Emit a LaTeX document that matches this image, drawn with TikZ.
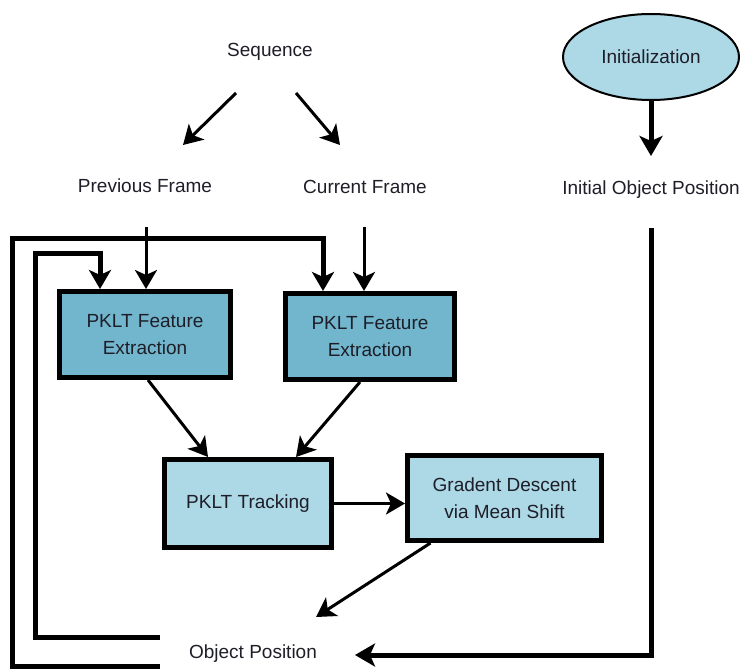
\documentclass[tikz,border=0pt]{standalone}
\usepackage{fontspec}
\setmainfont{Liberation Sans}
\usetikzlibrary{arrows.meta,shapes.geometric}
\definecolor{featblue}{HTML}{72B6CD}
\definecolor{paleblue}{HTML}{ADD8E6}
\definecolor{inkdark}{HTML}{1E1E28}
\begin{document}
\begin{tikzpicture}[x=1pt,y=-1pt,
  lbl/.style={font=\fontsize{19}{22}\selectfont, text=inkdark, inner sep=0pt},
  featbox/.style={draw=black, line width=5pt, fill=featblue, align=center,
    font=\fontsize{19}{27}\selectfont, text=inkdark, inner sep=0pt},
  procbox/.style={draw=black, line width=5pt, fill=paleblue, align=center,
    font=\fontsize{19}{27}\selectfont, text=inkdark, inner sep=0pt},
  arr/.style={draw=black, line width=3pt, -{Stealth[length=19pt,width=22pt,inset=5pt]}},
  heavyarr/.style={draw=black, line width=5pt, -{Stealth[length=20pt,width=23pt,inset=5pt]}},
  loop/.style={draw=black, line width=5pt, line join=miter},
]
\useasboundingbox (0,0) rectangle (741,671);

% text labels
\node[lbl] (seq) at (270,52) {Sequence};
\node[lbl] (prev) at (145,186) {Previous Frame};
\node[lbl] (curr) at (365,187) {Current Frame};
\node[lbl] (initpos) at (651,190) {Initial Object Position};
\node[lbl] (objpos) at (253,654) {Object Position};

% initialization ellipse
\node[ellipse, draw=black, line width=2pt, fill=paleblue, minimum width=176pt,
  minimum height=86pt, inner sep=0pt, font=\fontsize{19}{22}\selectfont, text=inkdark]
  (init) at (651,57) {Initialization};

% processing blocks
\node[featbox, minimum width=171pt, minimum height=86pt] (fe1) at (145,334.5)
  {PKLT Feature\\Extraction};
\node[featbox, minimum width=169pt, minimum height=86pt] (fe2) at (370,336.5)
  {PKLT Feature\\Extraction};
\node[procbox, minimum width=167pt, minimum height=88pt] (track) at (248,503.5)
  {PKLT Tracking};
\node[procbox, minimum width=194pt, minimum height=85pt] (gd) at (504.5,498)
  {Gradent Descent\\via Mean Shift};

% connector ends
\coordinate (seqL) at (236,93);
\coordinate (seqR) at (296,93);
\coordinate (prevIn) at (183,145);
\coordinate (currIn) at (340,145);
\coordinate (prevOut) at (146,227);
\coordinate (currOut) at (364,227);
\coordinate (initOut) at (651,228);
\coordinate (objIn) at (355,655);
\coordinate (objTip) at (316,617);
\coordinate (fbInner) at (160,637);
\coordinate (fbOuter) at (160,666);

% sequence split
\draw[arr] (seqL) -- (prevIn);
\draw[arr] (seqR) -- (currIn);

% frames into feature extraction
\draw[arr] (prevOut) -- (prevOut |- fe1.north);
\draw[arr] (currOut) -- (currOut |- fe2.north);

% feature extraction into tracking
\draw[arr] ([xshift=3pt]fe1.south) -- ([xshift=-40pt]track.north);
\draw[arr] ([xshift=-10pt]fe2.south) -- ([xshift=48pt]track.north);

% tracking to mean shift
\draw[arr] (track.east) -- (track.east -| gd.west);

% mean shift to object position
\draw[arr] ([xshift=-74pt]gd.south) -- (objTip);

% initialization
\draw[heavyarr] (init.south) -- (651,156);
\draw[loop, -{Stealth[length=20pt,width=23pt,inset=5pt]}] (initOut) -- (initOut |- objIn) -- (objIn);

% feedback loops
\draw[loop, -{Stealth[length=19pt,width=22pt,inset=5pt]}]
  (fbInner) -| (35,253) -| ([xshift=-45pt]fe1.north);
\draw[loop, -{Stealth[length=19pt,width=22pt,inset=5pt]}]
  (fbOuter) -| (12,238) -| ([xshift=-47pt]fe2.north);
\end{tikzpicture}
\end{document}
